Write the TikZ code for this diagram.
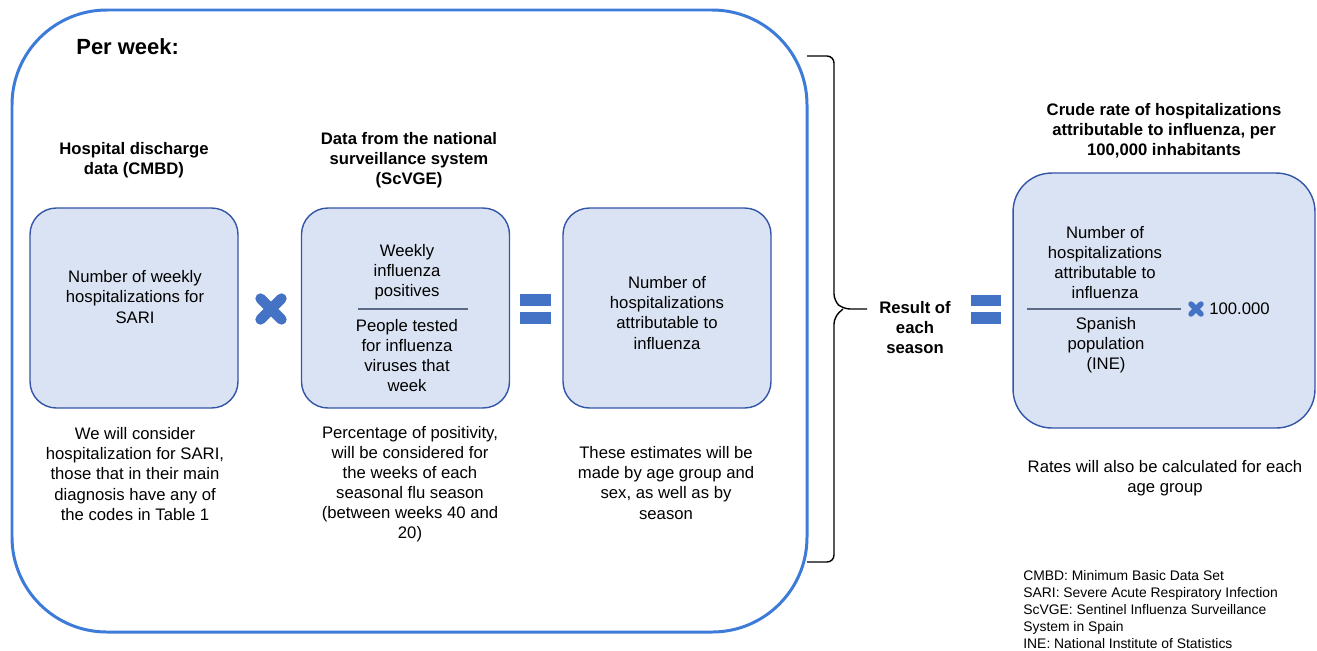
\documentclass[tikz,border=0pt]{standalone}
\usepackage{fontspec}
\setmainfont{Liberation Sans}
\usepackage{tikz}
\definecolor{framecol}{HTML}{3D7BD9}
\definecolor{boxline}{HTML}{3355A8}
\definecolor{boxfill}{HTML}{DAE3F3}
\definecolor{signcol}{HTML}{4472C4}
\definecolor{fraccol}{HTML}{5B6B85}
\tikzset{
    databox/.style = {draw=boxline, fill=boxfill, line width=0.8pt, rounded corners=15pt, inner sep=0, minimum width=4.16cm, minimum height=4cm},
    txt/.style = {align=center, inner sep=0, font=\fontsize{9.5}{11.4}\selectfont},
    head/.style = {align=center, inner sep=0, font=\fontsize{9.5}{11.4}\selectfont\bfseries},
    legend/.style = {align=left, inner sep=0, font=\fontsize{7.9}{9.65}\selectfont},
    fracline/.style = {draw=fraccol, line width=0.6pt},
    timessign/.style = {draw=signcol, line cap=round},
}

\begin{document}
\begin{tikzpicture}[x=0.02cm, y=-0.02cm]
    \useasboundingbox (0, 0) rectangle (1317, 650);

    \draw [framecol, line width=1.7pt, rounded corners=54pt] (12, 10) rectangle (807, 632);
    \node [anchor=west, inner sep=0, font=\fontsize{12.5}{15}\selectfont\bfseries] (perweek) at (76, 47) {Per week:};

    \node [databox] (cmbd) at (134, 308) {};
    \node [databox] (scvge) at (405.5, 308) {};
    \node [databox] (attrib) at (667, 308) {};
    \node [databox, minimum width=6.04cm, minimum height=5.1cm, rounded corners=22pt] (rate) at (1164, 300.5) {};

    \node [head] (cmbdhead) at (134, 160) {Hospital discharge\\data (CMBD)};
    \node [head] (scvgehead) at (409, 160) {Data from the national\\surveillance system\\(ScVGE)};
    \node [head] (ratehead) at (1164, 131) {Crude rate of hospitalizations\\attributable to influenza, per\\100,000 inhabitants};
    \node [head] (result) at (915, 327.5) {Result of\\each\\season};

    \node [txt] (cmbdtext) at (135, 297) {Number of weekly\\hospitalizations for\\SARI};
    \node [txt] (positives) at (407, 272) {Weekly\\influenza\\positives};
    \node [txt] (tested) at (407, 355.5) {People tested\\for influenza\\viruses that\\week};
    \node [txt] (attribtext) at (667, 313) {Number of\\hospitalizations\\attributable to\\influenza};
    \node [txt] (ratenum) at (1105, 262.5) {Number of\\hospitalizations\\attributable to\\influenza};
    \node [txt] (rateden) at (1106, 345.5) {Spanish\\population\\(INE)};
    \node [txt, anchor=west] (factor) at (1209, 309) {100.000};

    \draw [fracline] (358, 309) -- (468, 309);
    \draw [fracline] (1027, 309) -- (1181, 309);

    \node [txt] (cmbdnote) at (135, 474) {We will consider\\hospitalization for SARI,\\those that in their main\\diagnosis have any of\\the codes in Table 1};
    \node [txt] (scvgenote) at (410, 484) {Percentage of positivity,\\will be considered for\\the weeks of each\\seasonal flu season\\(between weeks 40 and\\20)};
    \node [txt] (attribnote) at (666, 483) {These estimates will be\\made by age group and\\sex, as well as by\\season};
    \node [txt] (ratenote) at (1165, 478.5) {Rates will also be calculated for each\\age group};

    \node [legend, anchor=west] (abbrev) at (1023, 609.5) {CMBD: Minimum Basic Data Set\\SARI: Severe Acute Respiratory Infection\\ScVGE: Sentinel Influenza Surveillance\\System in Spain\\INE: National Institute of Statistics};

    \draw [timessign, line width=5.9pt] (260.5, 298.5) -- (281.5, 319.5);
    \draw [timessign, line width=5.9pt] (260.5, 319.5) -- (281.5, 298.5);
    \draw [timessign, line width=3.1pt] (1191, 304) -- (1201, 314);
    \draw [timessign, line width=3.1pt] (1191, 314) -- (1201, 304);

    \fill [signcol] (520, 294) rectangle (551, 306);
    \fill [signcol] (520, 312) rectangle (551, 324);
    \fill [signcol] (971, 295) rectangle (1001, 306);
    \fill [signcol] (971, 312) rectangle (1001, 324);

    \coordinate (tip) at (867, 309);
    \draw [line width=0.8pt, rounded corners=4pt] (807, 56) -- (834, 56) -- (834, 301) -- (843, 309) -- (tip);
    \draw [line width=0.8pt, rounded corners=4pt] (807, 562) -- (834, 562) -- (834, 317) -- (843, 309);
\end{tikzpicture}
\end{document}
